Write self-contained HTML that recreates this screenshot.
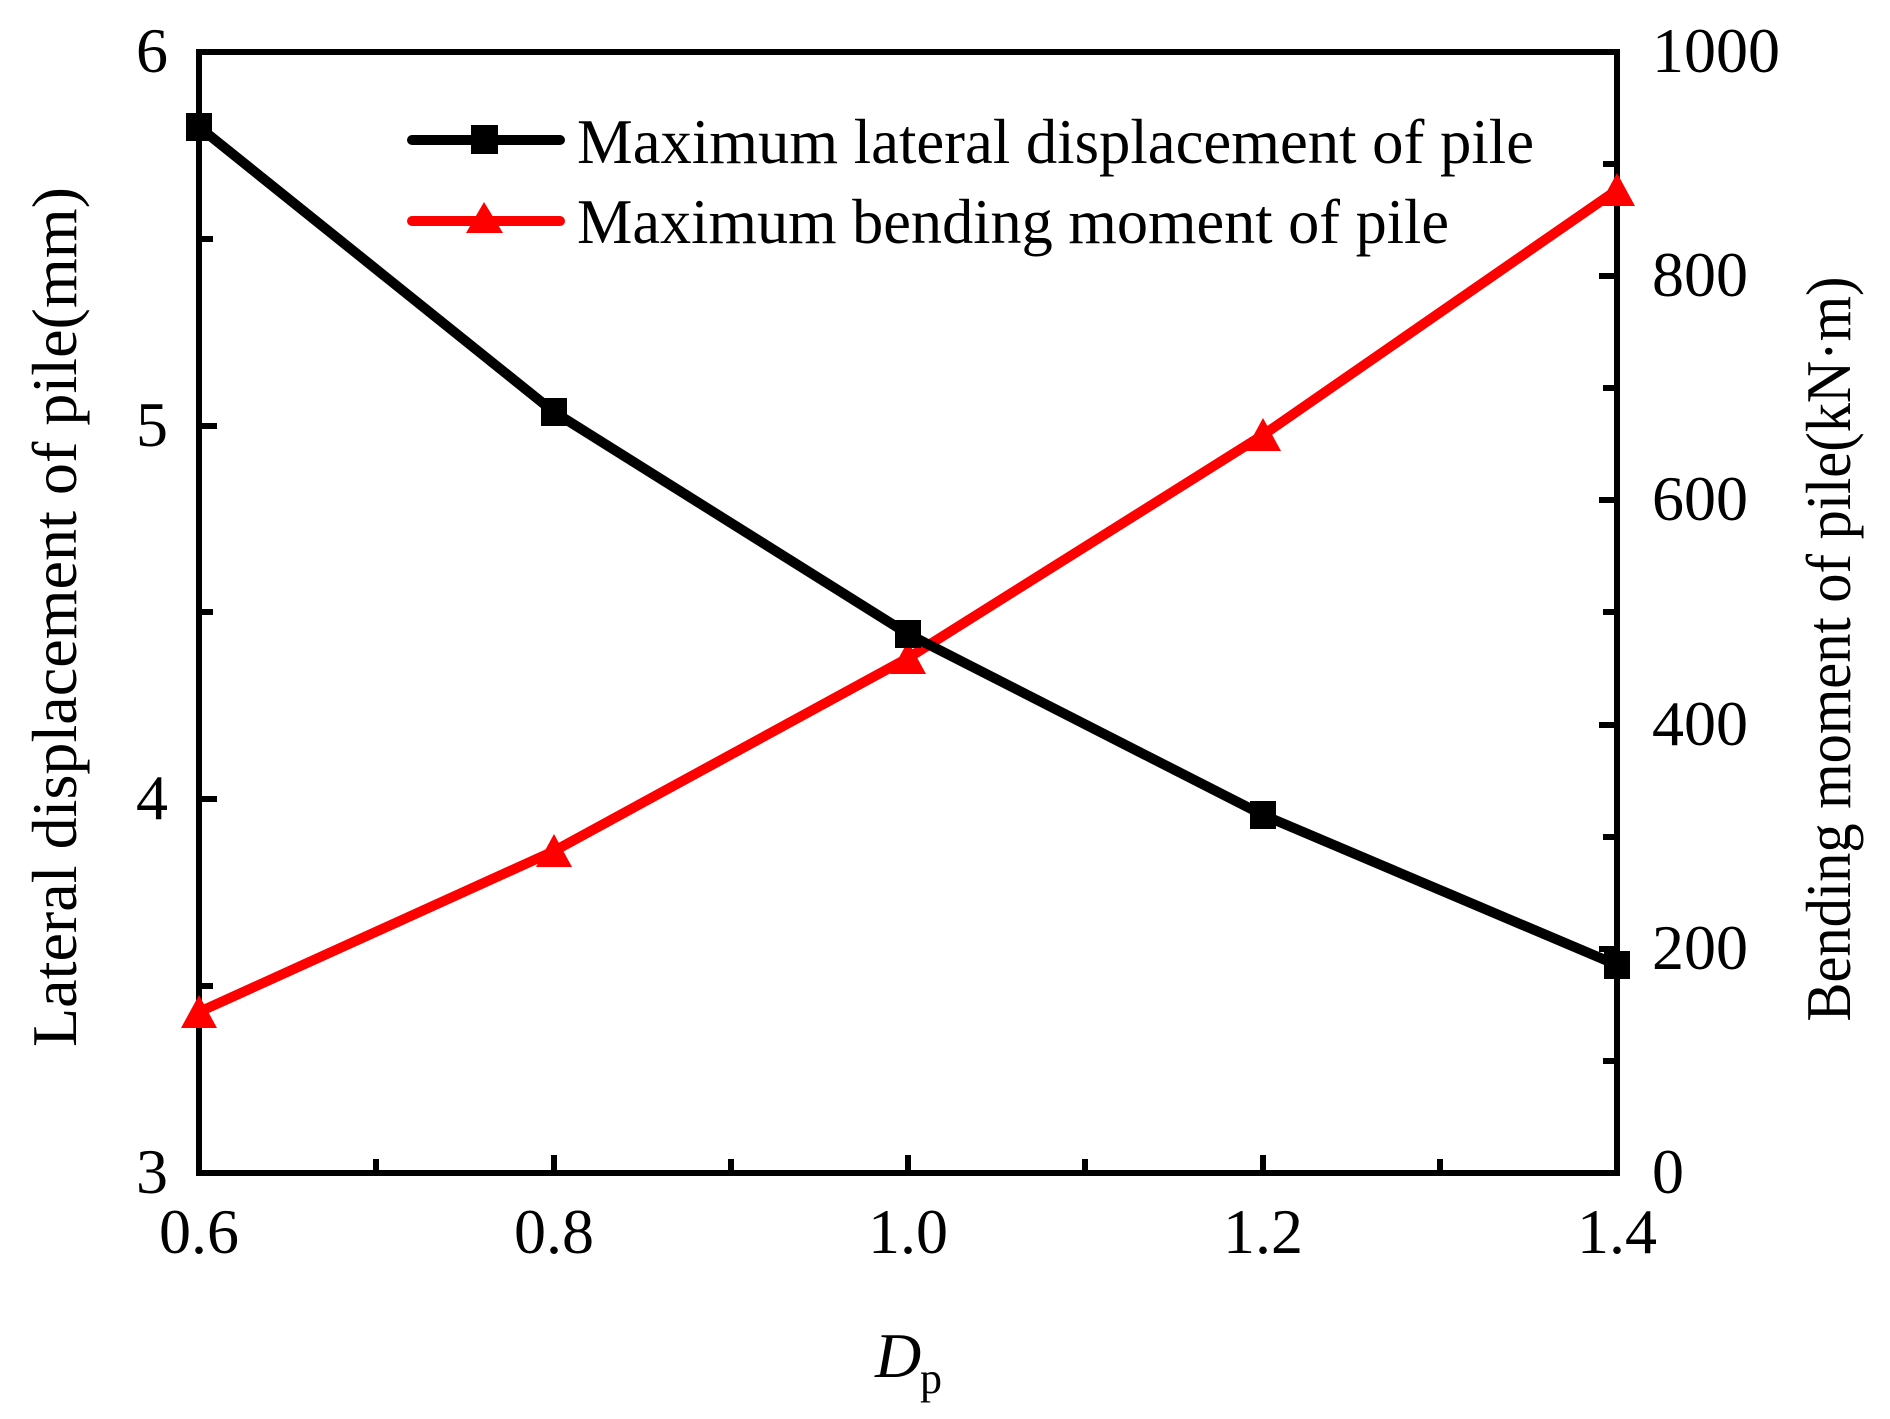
<!DOCTYPE html>
<html><head><meta charset="utf-8"><style>body{margin:0;background:#fff}svg{display:block}</style></head><body>
<svg width="1890" height="1419" viewBox="0 0 1890 1419" xmlns="http://www.w3.org/2000/svg" font-family="Liberation Serif, serif" font-size="64">
<rect width="1890" height="1419" fill="#fff"/>
<g stroke="#000" stroke-width="6">
<line x1="376" y1="1173" x2="376" y2="1159"/>
<line x1="554" y1="1173" x2="554" y2="1155"/>
<line x1="731" y1="1173" x2="731" y2="1159"/>
<line x1="908" y1="1173" x2="908" y2="1155"/>
<line x1="1085" y1="1173" x2="1085" y2="1159"/>
<line x1="1263" y1="1173" x2="1263" y2="1155"/>
<line x1="1440" y1="1173" x2="1440" y2="1159"/>
<line x1="199" y1="239" x2="213" y2="239"/>
<line x1="199" y1="426" x2="217" y2="426"/>
<line x1="199" y1="612" x2="213" y2="612"/>
<line x1="199" y1="799" x2="217" y2="799"/>
<line x1="199" y1="986" x2="213" y2="986"/>
<line x1="1617" y1="164" x2="1603" y2="164"/>
<line x1="1617" y1="276" x2="1599" y2="276"/>
<line x1="1617" y1="388" x2="1603" y2="388"/>
<line x1="1617" y1="500" x2="1599" y2="500"/>
<line x1="1617" y1="612" x2="1603" y2="612"/>
<line x1="1617" y1="725" x2="1599" y2="725"/>
<line x1="1617" y1="837" x2="1603" y2="837"/>
<line x1="1617" y1="949" x2="1599" y2="949"/>
<line x1="1617" y1="1061" x2="1603" y2="1061"/>
</g>
<rect x="199" y="52" width="1418" height="1121" fill="none" stroke="#000" stroke-width="6"/>
<polyline points="199,1012 554,851 908,658 1263,435 1617,190" fill="none" stroke="#f00" stroke-width="10"/>
<g fill="#f00">
<polygon points="199,995 217,1028 181,1028"/>
<polygon points="554,834 572,867 536,867"/>
<polygon points="908,641 926,674 890,674"/>
<polygon points="1263,418 1281,451 1245,451"/>
<polygon points="1617,173 1635,206 1599,206"/>
</g>
<polyline points="199,127 554,412 908,634 1263,815 1617,965" fill="none" stroke="#000" stroke-width="10"/>
<g fill="#000">
<rect x="186" y="113" width="26" height="28"/>
<rect x="541" y="398" width="26" height="28"/>
<rect x="895" y="620" width="26" height="28"/>
<rect x="1250" y="801" width="26" height="28"/>
<rect x="1604" y="951" width="26" height="28"/>
</g>
<line x1="412" y1="140" x2="560" y2="140" stroke="#000" stroke-width="10" stroke-linecap="round"/>
<rect x="471" y="125" width="27" height="29" fill="#000"/>
<line x1="412" y1="221" x2="560" y2="221" stroke="#f00" stroke-width="10" stroke-linecap="round"/>
<polygon points="484,202 503,233 466,233" fill="#f00"/>
<text x="577" y="163" textLength="957" lengthAdjust="spacingAndGlyphs">Maximum lateral displacement of pile</text>
<text x="577" y="243" textLength="872" lengthAdjust="spacingAndGlyphs">Maximum bending moment of pile</text>
<g text-anchor="middle">
<text x="199" y="1253">0.6</text>
<text x="554" y="1253">0.8</text>
<text x="908" y="1253">1.0</text>
<text x="1263" y="1253">1.2</text>
<text x="1617" y="1253">1.4</text>
</g>
<g text-anchor="end">
<text x="168" y="72">6</text>
<text x="168" y="446">5</text>
<text x="168" y="819">4</text>
<text x="168" y="1193">3</text>
</g>
<g text-anchor="start">
<text x="1652" y="72">1000</text>
<text x="1652" y="296">800</text>
<text x="1652" y="520">600</text>
<text x="1652" y="745">400</text>
<text x="1652" y="969">200</text>
<text x="1652" y="1193">0</text>
</g>
<text x="875" y="1377" font-style="italic">D</text><text x="920" y="1393" font-size="44">p</text>
<text transform="translate(76,617) rotate(-90)" text-anchor="middle" textLength="860" lengthAdjust="spacingAndGlyphs">Lateral displacement of pile(mm)</text>
<text transform="translate(1850,649) rotate(-90)" text-anchor="middle" textLength="745" lengthAdjust="spacingAndGlyphs">Bending moment of pile(kN·m)</text>
</svg>
</body></html>
